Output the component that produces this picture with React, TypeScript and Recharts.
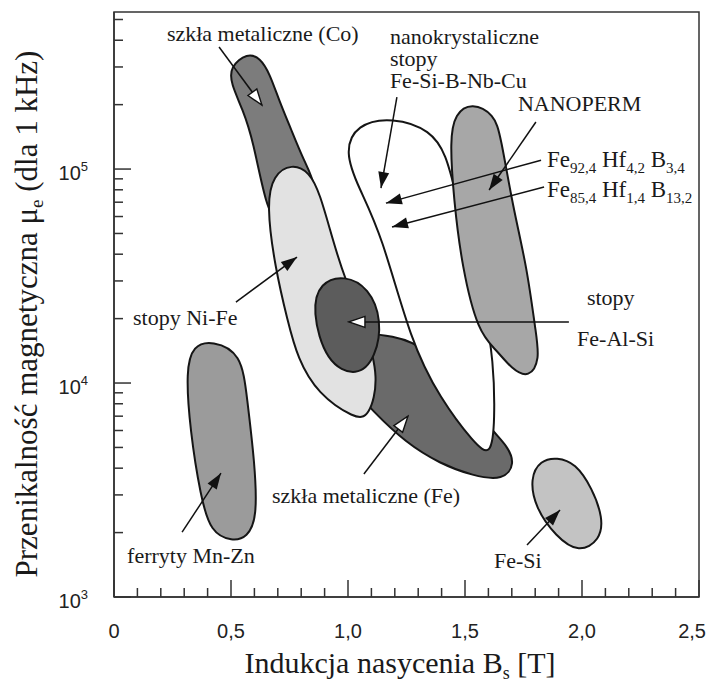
import { ScatterChart, Scatter, XAxis, YAxis, ReferenceArea } from 'recharts';

type Pt = [number, number];

const FONT_SERIF = '"Liberation Serif", "Times New Roman", serif';
const FONT_SANS = '"Liberation Sans", Arial, sans-serif';

// obszary materiałów: [B_s w T, μe]
const coGlass: Pt[] = [
  [0.57, 3.5e5], [0.625, 3.3e5], [0.665, 2.8e5], [0.705, 2.1e5], [0.755, 1.55e5],
  [0.81, 1.1e5], [0.865, 8.5e4], [0.865, 5.5e4], [0.8, 4.2e4], [0.7, 5.5e4],
  [0.65, 6.6e4], [0.594, 1.37e5], [0.55, 1.9e5], [0.5, 2.5e5], [0.495, 3.0e5],
];
const feGlass: Pt[] = [
  [1.0, 1.72e4], [1.197, 1.68e4], [1.35, 1.45e4], [1.52, 8.3e3], [1.615, 6.0e3],
  [1.68, 5.1e3], [1.715, 4.2e3], [1.665, 3.5e3], [1.534, 3.68e3], [1.393, 4.2e3],
  [1.248, 5.25e3], [1.105, 7.4e3], [1.0, 1.0e4], [0.95, 1.4e4],
];
const niFe: Pt[] = [
  [0.76, 1.06e5], [0.835, 9.7e4], [0.88, 7.7e4], [0.935, 4.66e4], [0.985, 3.1e4],
  [1.075, 1.8e4], [1.135, 1.05e4], [1.09, 6.9e3], [1.03, 6.8e3], [0.87, 8.9e3],
  [0.785, 1.3e4], [0.742, 1.95e4], [0.688, 3.48e4], [0.652, 6.8e4], [0.68, 9.4e4],
];
const feAlSi: Pt[] = [
  [0.985, 3.2e4], [1.09, 2.78e4], [1.145, 1.97e4], [1.12, 1.32e4], [1.04, 1.06e4],
  [0.905, 1.24e4], [0.845, 2.2e4], [0.88, 2.95e4],
];
const nanoFeSiBNbCu: Pt[] = [
  [1.19, 1.75e5], [1.355, 1.52e5], [1.42, 1.16e5], [1.457, 8.0e4], [1.52, 4.2e4],
  [1.585, 2.2e4], [1.622, 1.28e4], [1.628, 6.7e3], [1.612, 4.5e3], [1.54, 5.2e3],
  [1.393, 8.5e3], [1.27, 1.54e4], [1.143, 5.0e4], [1.045, 8.2e4], [0.985, 1.2e5],
  [1.035, 1.62e5],
];
const nanoperm: Pt[] = [
  [1.53, 2.05e5], [1.625, 1.8e5], [1.652, 1.44e5], [1.705, 6.6e4], [1.765, 3.48e4],
  [1.803, 1.7e4], [1.82, 1.3e4], [1.775, 1.05e4], [1.7, 1.16e4], [1.634, 1.43e4],
  [1.557, 1.71e4], [1.487, 3.48e4], [1.452, 7.2e4], [1.435, 1.37e5], [1.457, 1.82e5],
];
const ferrites: Pt[] = [
  [0.42, 1.58e4], [0.545, 1.38e4], [0.568, 8.6e3], [0.602, 4.2e3], [0.612, 2.35e3],
  [0.57, 1.9e3], [0.505, 1.82e3], [0.413, 2.0e3], [0.37, 2.95e3], [0.325, 6.0e3],
  [0.307, 1.15e4], [0.338, 1.5e4],
];
const feSi: Pt[] = [
  [1.893, 4.5e3], [1.972, 4.22e3], [2.043, 3.23e3], [2.09, 2.34e3], [2.078, 1.85e3],
  [1.987, 1.6e3], [1.888, 1.92e3], [1.8, 2.61e3], [1.778, 3.6e3], [1.822, 4.35e3],
];

// kolejność rysowania: od spodu do wierzchu
const regions = [
  { key: 'co', pts: coGlass, fill: '#7c7c7c' },
  { key: 'fe', pts: feGlass, fill: '#6a6a6a' },
  { key: 'nife', pts: niFe, fill: '#e2e2e2' },
  { key: 'fealsi', pts: feAlSi, fill: '#5c5c5c' },
  { key: 'nano', pts: nanoFeSiBNbCu, fill: '#ffffff' },
  { key: 'nanoperm', pts: nanoperm, fill: '#a7a7a7' },
  { key: 'ferryty', pts: ferrites, fill: '#9b9b9b' },
  { key: 'fesi', pts: feSi, fill: '#c3c3c3' },
];

// strzałki: początek, grot, rodzaj grotu
const arrows: { from: Pt; to: Pt; head: 'black' | 'white' }[] = [
  { from: [0.449, 3.72e5], to: [0.632, 1.99e5], head: 'white' },
  { from: [0.521, 2.39e4], to: [0.782, 3.88e4], head: 'black' },
  { from: [1.209, 2.17e5], to: [1.141, 8.15e4], head: 'black' },
  { from: [1.803, 1.66e5], to: [1.603, 7.98e4], head: 'black' },
  { from: [1.825, 1.1e5], to: [1.162, 6.93e4], head: 'black' },
  { from: [1.838, 8.24e4], to: [1.188, 5.36e4], head: 'black' },
  { from: [1.944, 1.93e4], to: [1.004, 1.93e4], head: 'white' },
  { from: [1.068, 3.76e3], to: [1.256, 7.0e3], head: 'white' },
  { from: [0.291, 2.01e3], to: [0.457, 3.79e3], head: 'black' },
  { from: [1.765, 1.75e3], to: [1.906, 2.55e3], head: 'black' },
];

// podpisy: punkt zaczepienia (początek linii bazowej), tekst; _{..} = indeks dolny
const labels = [
  { b: 0.226, mu: 3.96e5, text: 'szkła metaliczne (Co)' },
  { b: 1.179, mu: 3.85e5, text: 'nanokrystaliczne\nstopy\nFe-Si-B-Nb-Cu' },
  { b: 1.726, mu: 1.87e5, text: 'NANOPERM' },
  { b: 1.85, mu: 1.02e5, text: 'Fe_{92,4} Hf_{4,2} B_{3,4}' },
  { b: 1.85, mu: 7.4e4, text: 'Fe_{85,4} Hf_{1,4} B_{13,2}' },
  { b: 0.081, mu: 1.87e4, text: 'stopy Ni-Fe' },
  { b: 2.021, mu: 2.31e4, text: 'stopy' },
  { b: 1.979, mu: 1.49e4, text: 'Fe-Al-Si' },
  { b: 0.675, mu: 2.75e3, text: 'szkła metaliczne (Fe)' },
  { b: 1.624, mu: 1.37e3, text: 'Fe-Si' },
  { b: 0.056, mu: 1.44e3, text: 'ferryty Mn-Zn' },
];

const xTicks = [
  0, 0.1, 0.2, 0.3, 0.4, 0.5, 0.6, 0.7, 0.8, 0.9, 1.0, 1.1, 1.2,
  1.3, 1.4, 1.5, 1.6, 1.7, 1.8, 1.9, 2.0, 2.1, 2.2, 2.3, 2.4, 2.5,
];
const xMajor = [0, 0.5, 1.0, 1.5, 2.0, 2.5];
const yTicks = [
  1000, 2000, 3000, 4000, 5000, 6000, 7000, 8000, 9000,
  10000, 20000, 30000, 40000, 50000, 60000, 70000, 80000, 90000,
  100000, 200000, 300000, 400000, 500000,
];
const yMajor = [1000, 10000, 100000];

const toRows = (pts: Pt[]) => pts.map(([b, mu]) => ({ b, mu }));
const noDot = () => <g />;

const isMajorX = (v: number) => xMajor.some((m) => Math.abs(m - v) < 1e-6);
const fmtB = (v: number) => (v === 0 ? '0' : v.toFixed(1).replace('.', ','));

function XTick(props: any) {
  const { x, y, payload } = props;
  const v = payload.value;
  const major = isMajorX(v);
  // ostatni podpis dosunięty do krawędzi
  const last = Math.abs(v - 2.5) < 1e-6;
  return (
    <g>
      <line x1={x} y1={y} x2={x} y2={y - (major ? 17 : 9)} stroke="#333" strokeWidth={1.5} />
      {major && (
        <text
          x={last ? x + 7 : x}
          y={y + 41}
          textAnchor={last ? 'end' : 'middle'}
          fontSize={20}
          fontFamily={FONT_SANS}
          fill="#222"
        >
          {fmtB(v)}
        </text>
      )}
    </g>
  );
}

function YTick(props: any) {
  const { x, y, payload } = props;
  const major = yMajor.includes(payload.value);
  return (
    <g>
      <line x1={x} y1={y} x2={x + (major ? 17 : 9)} y2={y} stroke="#333" strokeWidth={1.5} />
      {major && (
        <text x={x - 26} y={y + 11} textAnchor="end" fontSize={20} fontFamily={FONT_SANS} fill="#222">
          10
          <tspan dy={-9} fontSize={13}>
            {Math.round(Math.log10(payload.value))}
          </tspan>
        </text>
      )}
    </g>
  );
}

// jedna linia podpisu z indeksami dolnymi
function lineParts(line: string, big: number, small: number) {
  const parts = line.split(/(_\{[^}]*\})/).filter((p) => p !== '');
  let lowered = false;
  return parts.map((p, i) => {
    if (p.startsWith('_{')) {
      lowered = true;
      return (
        <tspan key={i} dy={6} fontSize={small}>
          {p.slice(2, -1)}
        </tspan>
      );
    }
    const dy = lowered ? -6 : undefined;
    lowered = false;
    return (
      <tspan key={i} dy={dy} fontSize={big}>
        {p}
      </tspan>
    );
  });
}

function LabelShape(props: any) {
  const { cx, cy, payload } = props;
  const text: string = payload.text;
  const hasSub = text.includes('_{');
  const lines = text.split('\n');
  return (
    <text x={cx} y={cy} fontFamily={FONT_SERIF} fill="#1a1a1a" fontSize={22}>
      {lines.map((ln, i) =>
        hasSub ? (
          <tspan key={i}>{lineParts(ln, 23, 15)}</tspan>
        ) : (
          <tspan key={i} x={cx} dy={i === 0 ? undefined : 22}>
            {ln}
          </tspan>
        )
      )}
    </text>
  );
}

function arrowLine(head: 'black' | 'white') {
  return (p: any) => {
    const [a, b] = p.points;
    return (
      <line
        x1={a.x}
        y1={a.y}
        x2={b.x}
        y2={b.y}
        stroke="#111"
        strokeWidth={1.5}
        markerEnd={`url(#head-${head})`}
      />
    );
  };
}

export default function App() {
  return (
    <div style={{ position: 'absolute', left: 0, top: 0, background: '#fff' }}>
      <ScatterChart width={707} height={684} margin={{ top: 12, right: 8, bottom: 0, left: 0 }}>
        <defs>
          <marker
            id="head-black"
            viewBox="-1 -1 18 13"
            refX={16}
            refY={5.5}
            markerWidth={18}
            markerHeight={13}
            markerUnits="userSpaceOnUse"
            orient="auto"
          >
            <path d="M0,0 L16,5.5 L0,11 z" fill="#111" />
          </marker>
          <marker
            id="head-white"
            viewBox="-2 -2 20 15"
            refX={16}
            refY={5.5}
            markerWidth={20}
            markerHeight={15}
            markerUnits="userSpaceOnUse"
            orient="auto"
          >
            <path d="M0,0 L16,5.5 L0,11 z" fill="#fff" stroke="#111" strokeWidth={1.4} />
          </marker>
        </defs>
        <XAxis
          type="number"
          dataKey="b"
          domain={[0, 2.5]}
          allowDataOverflow
          ticks={xTicks}
          interval={0}
          tick={<XTick />}
          tickLine={false}
          tickSize={0}
          tickMargin={0}
          height={87}
          axisLine={{ stroke: '#333', strokeWidth: 1.5 }}
        />
        <YAxis
          type="number"
          dataKey="mu"
          scale="log"
          domain={[1e3, 5.42e5]}
          allowDataOverflow
          ticks={yTicks}
          interval={0}
          tick={<YTick />}
          tickLine={false}
          tickSize={0}
          tickMargin={0}
          width={114}
          axisLine={{ stroke: '#333', strokeWidth: 1.5 }}
        />
        <ReferenceArea
          x1={0}
          x2={2.5}
          y1={1e3}
          y2={5.42e5}
          fill="none"
          stroke="#333"
          strokeWidth={1.5}
          ifOverflow="visible"
        />
        {regions.map((r) => (
          <Scatter
            key={r.key}
            data={toRows(r.pts)}
            fill="none"
            shape={noDot}
            line={{ fill: r.fill, stroke: '#151515', strokeWidth: 2 }}
            lineJointType="basisClosed"
            isAnimationActive={false}
          />
        ))}
        {arrows.map((a, i) => (
          <Scatter
            key={`arrow-${i}`}
            data={toRows([a.from, a.to])}
            fill="none"
            shape={noDot}
            line={arrowLine(a.head)}
            isAnimationActive={false}
          />
        ))}
        <Scatter data={labels} fill="none" shape={<LabelShape />} isAnimationActive={false} />
        <text x={400} y={673} textAnchor="middle" fontSize={30} fontFamily={FONT_SERIF} fill="#1a1a1a">
          Indukcja nasycenia B
          <tspan dy={6} fontSize={18}>
            s
          </tspan>
          <tspan dy={-6}> [T]</tspan>
        </text>
        <text
          x={37}
          y={314}
          transform="rotate(-90, 37, 314)"
          textAnchor="middle"
          fontSize={31}
          fontFamily={FONT_SERIF}
          fill="#1a1a1a"
        >
          Przenikalność magnetyczna μ
          <tspan dy={6} fontSize={19}>
            e
          </tspan>
          <tspan dy={-6}> (dla 1 kHz)</tspan>
        </text>
      </ScatterChart>
    </div>
  );
}
